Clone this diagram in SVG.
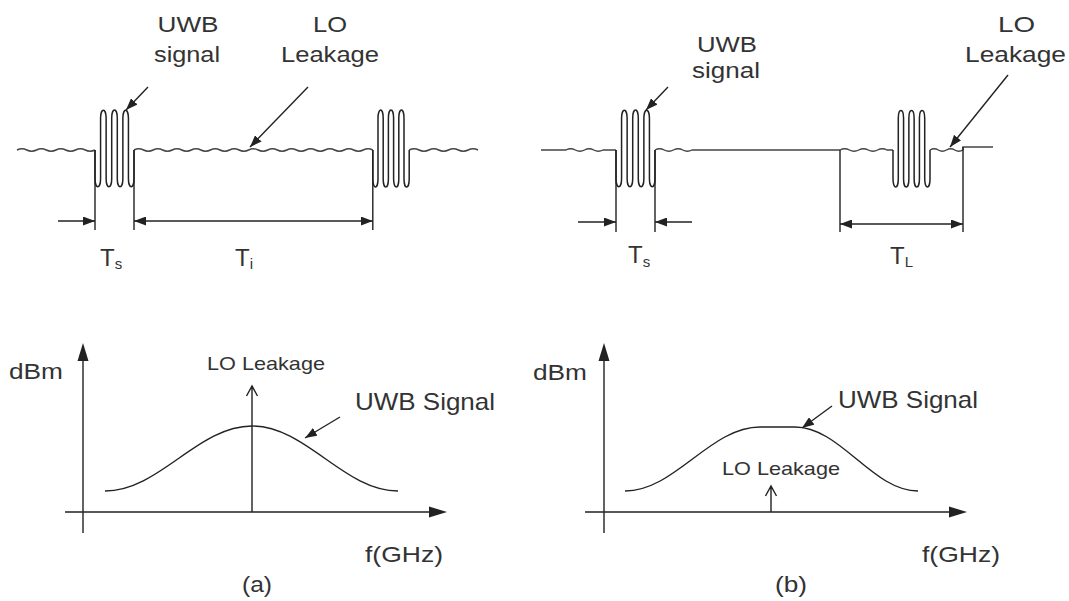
<svg xmlns="http://www.w3.org/2000/svg" width="1069" height="601" viewBox="0 0 1069 601">
<style>
.ln{fill:none;stroke:#222;stroke-width:1.4}
.wv{fill:none;stroke:#444;stroke-width:1.4}
.bu{fill:none;stroke:#222;stroke-width:1.5}
.tx{font-family:"Liberation Sans",Arial,sans-serif;fill:#333}
.t22{font-size:22px}
.t24{font-size:24px}
.t18{font-size:18.5px}
.ar{marker-end:url(#ah)}
.dar{marker-start:url(#ah);marker-end:url(#ah)}
</style>
<defs>
<marker id="ah" markerWidth="12" markerHeight="9" refX="12" refY="4.5" orient="auto-start-reverse" markerUnits="userSpaceOnUse"><path d="M0,0 L12,4.5 L0,9 z" fill="#222"/></marker>
</defs>
<rect width="1069" height="601" fill="#fff"/>

<!-- (a) time domain waveform -->
<g id="waveform-a">
<path class="wv" d="M17,150 q4.875,-2.4 9.75,0 t9.75,0 t9.75,0 t9.75,0 t9.75,0 t9.75,0 t9.75,0 t9.75,0"/>
<path class="bu" d="M95,150 L95,179 A2.786,8 0 0 0 100.57,179 L100.57,118 A2.786,8 0 0 1 106.14,118 L106.14,179 A2.786,8 0 0 0 111.71,179 L111.71,118 A2.786,8 0 0 1 117.29,118 L117.29,179 A2.786,8 0 0 0 122.86,179 L122.86,118 A2.786,8 0 0 1 128.43,118 L128.43,179 A2.786,8 0 0 0 134,179 L134,150"/>
<path class="wv" d="M134,150 q4.776,-2.4 9.552,0 t9.552,0 t9.552,0 t9.552,0 t9.552,0 t9.552,0 t9.552,0 t9.552,0 t9.552,0 t9.552,0 t9.552,0 t9.552,0 t9.552,0 t9.552,0 t9.552,0 t9.552,0 t9.552,0 t9.552,0 t9.552,0 t9.552,0 t9.552,0 t9.552,0 t9.552,0 t9.552,0 t9.552,0"/>
<path class="bu" d="M372.8,150 L372.8,179 A2.6,8 0 0 0 378,179 L378,118 A2.6,8 0 0 1 383.2,118 L383.2,179 A2.6,8 0 0 0 388.4,179 L388.4,118 A2.6,8 0 0 1 393.6,118 L393.6,179 A2.6,8 0 0 0 398.8,179 L398.8,118 A2.6,8 0 0 1 404,118 L404,179 A2.6,8 0 0 0 409.2,179 L409.2,150"/>
<path class="wv" d="M409.2,150 q4.914,-2.4 9.829,0 t9.829,0 t9.829,0 t9.829,0 t9.829,0 t9.829,0 t9.829,0"/>
<path class="ln" d="M95,150 V230 M134,150 V230 M372.8,150 V230"/>
</g>

<!-- (b) time domain waveform -->
<g id="waveform-b">
<path class="wv" d="M541,150 L566,150 q4.625,-2.4 9.25,0 t9.25,0 t9.25,0 t9.25,0 L616,150"/>
<path class="bu" d="M616,150 L616,179 A2.786,8 0 0 0 621.57,179 L621.57,118 A2.786,8 0 0 1 627.14,118 L627.14,179 A2.786,8 0 0 0 632.71,179 L632.71,118 A2.786,8 0 0 1 638.29,118 L638.29,179 A2.786,8 0 0 0 643.86,179 L643.86,118 A2.786,8 0 0 1 649.43,118 L649.43,179 A2.786,8 0 0 0 655,179 L655,150"/>
<path class="wv" d="M655,150 q4.625,-2.4 9.25,0 t9.25,0 t9.25,0 t9.25,0 L840,150 q4.7,-2.4 9.4,0 t9.4,0 t9.4,0 t9.4,0 t9.4,0 L893,150"/>
<path class="bu" d="M893,150 L893,179 A2.643,8 0 0 0 898.29,179 L898.29,118 A2.643,8 0 0 1 903.57,118 L903.57,179 A2.643,8 0 0 0 908.86,179 L908.86,118 A2.643,8 0 0 1 914.14,118 L914.14,179 A2.643,8 0 0 0 919.43,179 L919.43,118 A2.643,8 0 0 1 924.71,118 L924.71,179 A2.643,8 0 0 0 930,179 L930,150"/>
<path class="wv" d="M930,150 q4.125,-2.4 8.25,0 t8.25,0 t8.25,0 t8.25,0 L963,147 L993,147"/>
<path class="ln" d="M616,150 V232 M655,150 V232 M840,150 V232 M963,147 V232"/>
</g>

<!-- (a) spectrum -->
<g id="spectrum-a">
<path class="ln" d="M83,533 V355 M65,512 H435"/>
<polygon points="83,343 77.5,361 88.5,361" fill="#222"/>
<polygon points="447,512 429,506.5 429,517.5" fill="#222"/>
<path class="ln" d="M105,491 C159.4,491 197.6,426 252,426 C306,426 344,491 398,491"/>
<path class="ln" d="M252,512 V386 M246.5,396 L252,386 L257.5,396"/>
</g>

<!-- (b) spectrum -->
<g id="spectrum-b">
<path class="ln" d="M604,533 V355 M585,512 H955"/>
<polygon points="604,343 598.5,361 609.5,361" fill="#222"/>
<polygon points="967,512 949,506.5 949,517.5" fill="#222"/>
<path class="ln" d="M625,491 C675,491 710,427 760,427 L795,427 C840.5,427 872.5,491 918,491"/>
<path class="ln" d="M771,512 V486 M765.5,496 L771,486 L776.5,496"/>
</g>

<!-- labels -->
<g id="label-uwb-a" class="tx t22" text-anchor="middle">
<text x="188" y="32" textLength="61" lengthAdjust="spacingAndGlyphs">UWB</text>
<text x="187" y="62" textLength="66" lengthAdjust="spacingAndGlyphs">signal</text>
</g>
<g id="label-lo-a" class="tx t22" text-anchor="middle">
<text x="330" y="32" textLength="34" lengthAdjust="spacingAndGlyphs">LO</text>
<text x="330" y="62" textLength="98" lengthAdjust="spacingAndGlyphs">Leakage</text>
</g>
<g id="label-uwb-b" class="tx t22" text-anchor="middle">
<text x="727" y="52" textLength="60" lengthAdjust="spacingAndGlyphs">UWB</text>
<text x="726" y="78" textLength="68" lengthAdjust="spacingAndGlyphs">signal</text>
</g>
<g id="label-lo-b" class="tx t22" text-anchor="middle">
<text x="1016.5" y="32" textLength="37" lengthAdjust="spacingAndGlyphs">LO</text>
<text x="1015.5" y="62" textLength="101" lengthAdjust="spacingAndGlyphs">Leakage</text>
</g>
<g id="label-ts-a" class="tx t24"><text x="100" y="266">T<tspan font-size="15" dy="3">s</tspan></text></g>
<g id="label-ti-a" class="tx t24"><text x="235" y="266">T<tspan font-size="15" dy="3">i</tspan></text></g>
<g id="label-ts-b" class="tx t24"><text x="628" y="263">T<tspan font-size="15" dy="4">s</tspan></text></g>
<g id="label-tl-b" class="tx t24"><text x="890" y="264">T<tspan font-size="15" dy="3">L</tspan></text></g>

<g id="label-dbm-a" class="tx t22"><text x="9" y="379" textLength="54" lengthAdjust="spacingAndGlyphs">dBm</text></g>
<g id="label-dbm-b" class="tx t22"><text x="533" y="380" textLength="54" lengthAdjust="spacingAndGlyphs">dBm</text></g>
<g id="label-lo-spec-a" class="tx t18"><text x="207" y="370" textLength="118" lengthAdjust="spacingAndGlyphs">LO Leakage</text></g>
<g id="label-lo-spec-b" class="tx t18"><text x="722" y="475" textLength="118" lengthAdjust="spacingAndGlyphs">LO Leakage</text></g>
<g id="label-uwb-spec-a" class="tx t24"><text x="355" y="410" textLength="140" lengthAdjust="spacingAndGlyphs">UWB Signal</text></g>
<g id="label-uwb-spec-b" class="tx t24"><text x="838" y="408" textLength="140" lengthAdjust="spacingAndGlyphs">UWB Signal</text></g>
<g id="label-f-a" class="tx t22"><text x="365" y="562" textLength="78" lengthAdjust="spacingAndGlyphs">f(GHz)</text></g>
<g id="label-f-b" class="tx t22"><text x="922" y="562" textLength="78" lengthAdjust="spacingAndGlyphs">f(GHz)</text></g>
<g id="caption-a" class="tx t22"><text x="242" y="592" textLength="30" lengthAdjust="spacingAndGlyphs">(a)</text></g>
<g id="caption-b" class="tx t22"><text x="775" y="592" textLength="32" lengthAdjust="spacingAndGlyphs">(b)</text></g>

<!-- connectors -->
<g id="connectors">
<path class="ln ar" d="M148,87 L126,110"/>
<path class="ln ar" d="M308,87 L250,147"/>
<path class="ln ar" d="M668,87 L646,110"/>
<path class="ln ar" d="M1008,75 L950,147"/>
<path class="ln ar" d="M340,417 L305,438"/>
<path class="ln ar" d="M832,406 L802,428"/>
<path class="ln ar" d="M58,221 L95,221"/>
<path class="ln dar" d="M134,221 L372.8,221"/>
<path class="ln ar" d="M578,222 L616,222"/>
<path class="ln ar" d="M692,222 L655,222"/>
<path class="ln dar" d="M840,224 L963,224"/>
</g>
</svg>
